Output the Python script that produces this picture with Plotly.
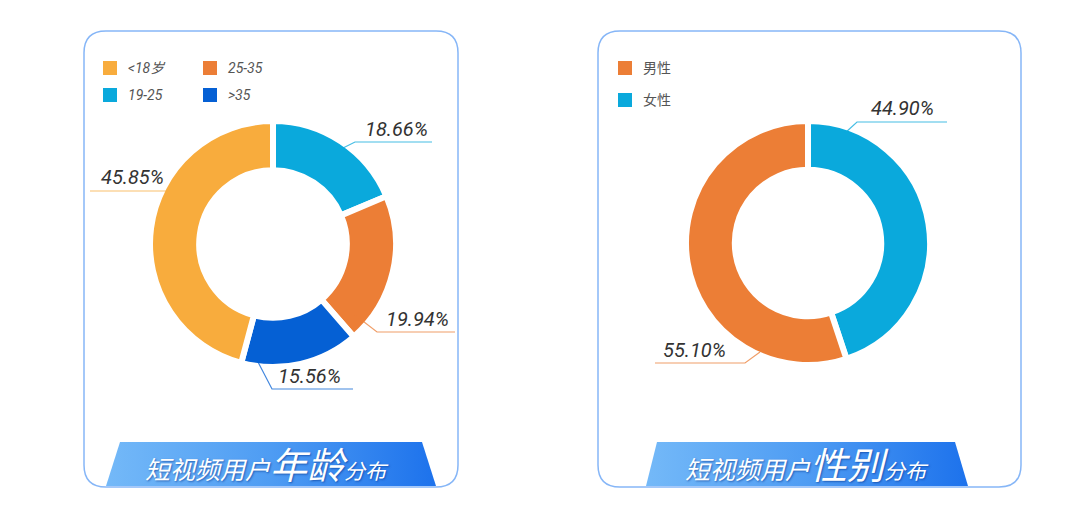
import plotly.graph_objects as go

W, H = 1080, 515
OFF = 8  # page body margin offset of the plot div

# ---------------- data ----------------
age_labels = ["19-25", "25-35", ">35", "<18岁"]
age_values = [18.66, 19.94, 15.56, 45.85]
age_colors = ["#0AA9DC", "#EC7E36", "#0560D4", "#F8AC3D"]
age_legend_order = ["<18岁", "25-35", "19-25", ">35"]

gender_labels = ["女性", "男性"]
gender_values = [44.90, 55.10]
gender_colors = ["#0AA9DC", "#EC7E36"]
gender_legend_order = ["男性", "女性"]

age_title = ["短视频用户", "年龄", "分布"]
gender_title = ["短视频用户", "性别", "分布"]

# ---------------- layout config (pixels) ----------------
panels = [dict(x0=84, y0=31, x1=458, y1=487), dict(x0=598, y0=31, x1=1021, y1=487)]
donuts = [dict(cx=273, cy=244, r=123), dict(cx=808, cy=243, r=122)]
banners = [dict(tl=120, tr=422, bl=106, br=436, top=442, bot=486, tx=267),
           dict(tl=657, tr=955, bl=646, br=968, top=442, bot=486, tx=807)]
# leader line points and text centre per label
age_label_layout = {
    "19-25": dict(pts=[(343, 148), (355, 142), (432, 142)], txt=(396, 129)),
    "25-35": dict(pts=[(355, 315), (377, 332), (455, 332)], txt=(417, 319)),
    ">35": dict(pts=[(258, 362), (272, 389), (353, 389)], txt=(309, 376)),
    "<18岁": dict(pts=[(168, 191), (90, 191)], txt=(132, 177)),
}
gender_label_layout = {
    "女性": dict(pts=[(845, 133), (857, 122), (947, 122)], txt=(902, 108)),
    "男性": dict(pts=[(760, 352), (745, 363), (655, 363)], txt=(694, 350)),
}
age_legend_pos = [(110, 68), (210, 68), (110, 95), (210, 95)]
gender_legend_pos = [(625, 68), (625, 100)]

fig = go.Figure()


def dom(d):
    cx, cy, r = d["cx"] - OFF, d["cy"] - OFF, d["r"]
    return dict(x=[(cx - r) / W, (cx + r) / W], y=[1 - (cy + r) / H, 1 - (cy - r) / H])


for labels, values, colors, d in [
    (age_labels, age_values, age_colors, donuts[0]),
    (gender_labels, gender_values, gender_colors, donuts[1]),
]:
    fig.add_trace(go.Pie(
        labels=labels, values=values, hole=0.6, sort=False, direction="clockwise",
        rotation=0, marker=dict(colors=colors, line=dict(color="white", width=6)),
        textinfo="none", hoverinfo="label+percent", showlegend=False, domain=dom(d),
    ))

# banners as gradient-filled polygons on a hidden pixel axis
for b in banners:
    fig.add_trace(go.Scatter(
        x=[b["tl"], b["tr"], b["br"], b["bl"], b["tl"]],
        y=[b["top"], b["top"], b["bot"], b["bot"], b["top"]],
        mode="lines", fill="toself", line=dict(width=0, color="rgba(0,0,0,0)"),
        fillgradient=dict(type="horizontal",
                          colorscale=[[0, "#74B9F8"], [0.5, "#4E9CF3"], [1, "#1D72EC"]]),
        hoverinfo="skip", showlegend=False, xaxis="x", yaxis="y",
    ))

shapes = []
annotations = []

# panels: rounded rectangles
for p in panels:
    x0, y0, x1, y1, rr = p["x0"], p["y0"], p["x1"], p["y1"], 22
    path = (f"M {x0+rr},{y0} L {x1-rr},{y0} Q {x1},{y0} {x1},{y0+rr} "
            f"L {x1},{y1-rr} Q {x1},{y1} {x1-rr},{y1} L {x0+rr},{y1} "
            f"Q {x0},{y1} {x0},{y1-rr} L {x0},{y0+rr} Q {x0},{y0} {x0+rr},{y0} Z")
    shapes.append(dict(type="path", path=path, xref="x", yref="y",
                       line=dict(color="#86B6F7", width=1.5), layer="below"))

# percentage labels with leader lines
label_font = dict(family="Roboto, Lato, sans-serif", size=20, color="#333333", style="italic")
for labels, values, colors, lay in [
    (age_labels, age_values, age_colors, age_label_layout),
    (gender_labels, gender_values, gender_colors, gender_label_layout),
]:
    for lab, val, col in zip(labels, values, colors):
        L = lay[lab]
        pts = L["pts"]
        path = "M " + " L ".join(f"{x},{y}" for x, y in pts)
        shapes.append(dict(type="path", path=path, xref="x", yref="y",
                           line=dict(color=col, width=1.2), opacity=0.75, layer="above"))
        annotations.append(dict(x=L["txt"][0], y=L["txt"][1], xref="x", yref="y",
                                text=f"{val:.2f}%", showarrow=False, font=label_font,
                                xanchor="center", yanchor="middle"))

# legends
leg_font = dict(family="Roboto, 'Noto Sans CJK SC', sans-serif", size=14, color="#555555")
for order, labels, colors, positions, italic in [
    (age_legend_order, age_labels, age_colors, age_legend_pos, True),
    (gender_legend_order, gender_labels, gender_colors, gender_legend_pos, False),
]:
    for lab, (x, y) in zip(order, positions):
        col = colors[labels.index(lab)]
        shapes.append(dict(type="rect", xref="x", yref="y", x0=x - 7, x1=x + 7,
                           y0=y - 7, y1=y + 7, fillcolor=col, line=dict(width=0)))
        f = dict(leg_font)
        if italic:
            f["style"] = "italic"
        annotations.append(dict(x=x + 16, y=y, xref="x", yref="y", text=lab,
                                showarrow=False, font=f, xanchor="left", yanchor="middle"))

# banner titles
for b, t in zip(banners, [age_title, gender_title]):
    txt = (f"{t[0]}<span style='font-size:37px'>{t[1]}</span>"
           f"<span style='font-size:21px'>{t[2]}</span>")
    annotations.append(dict(
        x=b["tx"], y=(b["top"] + b["bot"]) / 2 - 1, xref="x", yref="y", text=txt,
        showarrow=False, xanchor="center", yanchor="middle",
        font=dict(family="'Noto Sans CJK SC', sans-serif", size=25, color="white",
                  style="italic", shadow="1px 1px 2px rgba(0,50,140,0.6)"),
    ))

fig.update_layout(
    width=W, height=H, margin=dict(l=0, r=0, t=0, b=0),
    paper_bgcolor="white", plot_bgcolor="rgba(0,0,0,0)",
    xaxis=dict(range=[OFF, W + OFF], visible=False, fixedrange=True, domain=[0, 1]),
    yaxis=dict(range=[H + OFF, OFF], visible=False, fixedrange=True, domain=[0, 1]),
    shapes=shapes, annotations=annotations, showlegend=False,
)

fig.write_html("out.html")
